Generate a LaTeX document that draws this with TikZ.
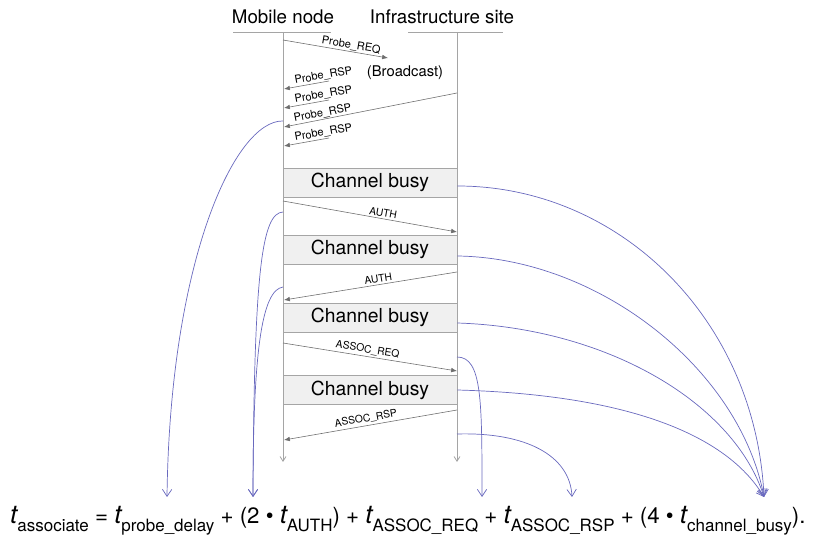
\documentclass[tikz,border=0pt]{standalone}
\usepackage{fontspec}
\setmainfont{TeX Gyre Heros}
\usetikzlibrary{arrows.meta}

\definecolor{laneGray}{RGB}{165,165,165}
\definecolor{boxFill}{RGB}{240,240,240}
\definecolor{msgGray}{RGB}{110,110,110}
\definecolor{termBlue}{RGB}{105,105,190}

\newcommand{\tv}[1]{{\fontsize{22}{22}\selectfont\itshape t}\raisebox{-0.36em}{\fontsize{14.5}{15}\selectfont #1}}

\tikzset{
  lane/.style={draw=laneGray, line width=0.7pt, -{Straight Barb[length=4pt,width=5pt]}},
  busybox/.style={draw=laneGray, fill=boxFill, line width=0.7pt, minimum width=5.22cm,
    minimum height=0.87cm, inner sep=0pt, font=\fontsize{16.5}{18}\selectfont},
  msg/.style={draw=msgGray, line width=0.5pt, -{Latex[length=5pt,width=4pt]}},
  lbl/.style={font=\fontsize{9.4}{10}\selectfont, inner sep=0.6pt, sloped, above},
  small/.style={font=\fontsize{8.8}{9}\selectfont, inner sep=1.5pt, sloped, above},
  term/.style={draw=termBlue, line width=0.6pt, -{Straight Barb[length=6pt,width=8pt]}}
}

\begin{document}
\begin{tikzpicture}[x=0.03cm, y=-0.03cm]
\useasboundingbox (0,0) rectangle (827,539);

% Headers
\node (mobile) at (283,17) {\fontsize{16}{18}\selectfont Mobile node};
\node (infra) at (442,17) {\fontsize{16}{18}\selectfont Infrastructure site};
\draw[laneGray, line width=0.7pt] (233,32) -- (331,32);
\draw[laneGray, line width=0.7pt] (408,32) -- (503,32);

% Lifelines
\coordinate (mTop) at (283,32);
\coordinate (mEnd) at (283,462);
\coordinate (iTop) at (457,32);
\coordinate (iEnd) at (457,462);
\draw[lane] (mTop) -- (mEnd);
\draw[lane] (iTop) -- (iEnd);

% Probe phase
\coordinate (req0) at (283,40);
\coordinate (req1) at (388,58);
\draw[msg] (req0) -- node[lbl, pos=0.64] {Probe\_REQ} (req1);
\node (bcast) at (405,73) {\fontsize{12.6}{13}\selectfont(Broadcast)};

\coordinate (rspA0) at (329,81);  \coordinate (rspA1) at (284,89);
\coordinate (rspB0) at (329,100); \coordinate (rspB1) at (284,108);
\coordinate (rspC0) at (457,93);  \coordinate (rspC1) at (284,127);
\coordinate (rspD0) at (329,138); \coordinate (rspD1) at (284,146);
\draw[msg] (rspA0) -- node[lbl, pos=0.1] {Probe\_RSP} (rspA1);
\draw[msg] (rspB0) -- node[lbl, pos=0.1] {Probe\_RSP} (rspB1);
\draw[msg] (rspC0) -- node[lbl, pos=0.77] {Probe\_RSP} (rspC1);
\draw[msg] (rspD0) -- node[lbl, pos=0.1] {Probe\_RSP} (rspD1);

% Channel busy boxes
\node[busybox] (busy1) at (370,182.5) {Channel busy};
\node[busybox] (busy2) at (370,249.5) {Channel busy};
\node[busybox] (busy3) at (370,317.5) {Channel busy};
\node[busybox] (busy4) at (370,390) {Channel busy};

% Authentication / association
\coordinate (auA0) at (283,201); \coordinate (auA1) at (457,232);
\coordinate (auB0) at (457,272); \coordinate (auB1) at (284,300);
\coordinate (asA0) at (283,343); \coordinate (asA1) at (457,371);
\coordinate (asB0) at (457,410); \coordinate (asB1) at (284,440);
\draw[msg] (auA0) -- node[small, pos=0.57] {AUTH} (auA1);
\draw[msg] (auB0) -- node[small, pos=0.45] {AUTH} (auB1);
\draw[msg] (asA0) -- node[small, pos=0.48] {ASSOC\_REQ} (asA1);
\draw[msg] (asB0) -- node[small, pos=0.52] {ASSOC\_RSP} (asB1);

% Formula
\node[anchor=base west, inner sep=0pt] (formula) at (10,523)
  {\fontsize{19}{20}\selectfont \tv{associate} = \tv{probe\_delay} + (2 \textbullet\ \tv{AUTH}) + \tv{ASSOC\_REQ} + \tv{ASSOC\_RSP} + (4 \textbullet\ \tv{channel\_busy}).};
\coordinate (fProbe) at (167,497);
\coordinate (fAuth) at (253,497);
\coordinate (fReq) at (482,497);
\coordinate (fRsp) at (572,497);
\coordinate (fBusy) at (764,497);

% Timing terms
\coordinate (pStart) at (283,121);
\coordinate (aStartA) at (283,212);
\coordinate (aStartB) at (283,287);
\coordinate (qStart) at (457,357);
\coordinate (sStart) at (457,434);
\draw[term] (pStart) .. controls (235,120) and (170,260) .. (fProbe);
\draw[term] (aStartA) .. controls (262,213) and (254,270) .. (fAuth);
\draw[term] (aStartB) .. controls (262,290) and (253,350) .. (fAuth);
\draw[term] (qStart) .. controls (482,357) and (482,400) .. (fReq);
\draw[term] (sStart) .. controls (525,432) and (570,455) .. (fRsp);
\draw[term] (busy1.east |- 0,186) .. controls (620,186) and (756,320) .. (fBusy);
\draw[term] (busy2.east |- 0,256) .. controls (600,258) and (740,370) .. (fBusy);
\draw[term] (busy3.east |- 0,323) .. controls (610,328) and (735,405) .. (fBusy);
\draw[term] (busy4.east |- 0,390) .. controls (640,395) and (730,440) .. (fBusy);

\end{tikzpicture}
\end{document}
